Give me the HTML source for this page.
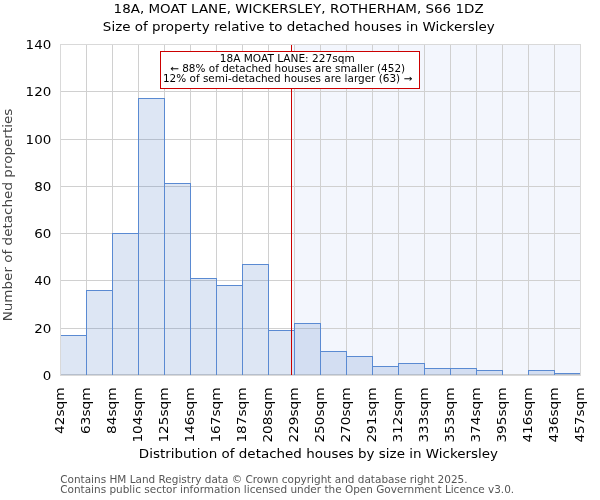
<!DOCTYPE html>
<html><head><meta charset="utf-8"><title>18A, MOAT LANE, WICKERSLEY - size distribution</title>
<style>html,body{margin:0;padding:0;background:#fff;}#c{position:relative;width:600px;height:500px;overflow:hidden;}svg{display:block;}#t{will-change:transform;}</style>
</head><body><div id="c">
<svg width="600" height="500" viewBox="0 0 600 500" shape-rendering="crispEdges">
<rect x="0" y="0" width="600" height="500" fill="#ffffff"/>
<rect x="294.5" y="44.5" width="286.0" height="330.5" fill="#f3f6fd"/>
<rect x="292" y="44.5" width="2.5" height="330.5" fill="#f9fbfe"/>
<path d="M60.5 44.5V375.0M86.5 44.5V375.0M112.5 44.5V375.0M138.5 44.5V375.0M164.5 44.5V375.0M190.5 44.5V375.0M216.5 44.5V375.0M242.5 44.5V375.0M268.5 44.5V375.0M294.5 44.5V375.0M320.5 44.5V375.0M346.5 44.5V375.0M372.5 44.5V375.0M398.5 44.5V375.0M424.5 44.5V375.0M450.5 44.5V375.0M476.5 44.5V375.0M502.5 44.5V375.0M528.5 44.5V375.0M554.5 44.5V375.0M580.5 44.5V375.0M60.5 328.5H580.5M60.5 280.5H580.5M60.5 233.5H580.5M60.5 186.5H580.5M60.5 139.5H580.5M60.5 91.5H580.5M60.5 44.5H580.5M60.5 374.5H580.5" stroke="#d0d0d0" stroke-width="1" fill="none"/>
<rect x="60.5" y="335.5" width="26" height="39.5" fill="#4472c4" fill-opacity="0.18"/>
<rect x="86.5" y="290.5" width="26" height="84.5" fill="#4472c4" fill-opacity="0.18"/>
<rect x="112.5" y="233.5" width="26" height="141.5" fill="#4472c4" fill-opacity="0.18"/>
<rect x="138.5" y="98.5" width="26" height="276.5" fill="#4472c4" fill-opacity="0.18"/>
<rect x="164.5" y="183.5" width="26" height="191.5" fill="#4472c4" fill-opacity="0.18"/>
<rect x="190.5" y="278.5" width="26" height="96.5" fill="#4472c4" fill-opacity="0.18"/>
<rect x="216.5" y="285.5" width="26" height="89.5" fill="#4472c4" fill-opacity="0.18"/>
<rect x="242.5" y="264.5" width="26" height="110.5" fill="#4472c4" fill-opacity="0.18"/>
<rect x="268.5" y="330.5" width="26" height="44.5" fill="#4472c4" fill-opacity="0.18"/>
<rect x="294.5" y="323.5" width="26" height="51.5" fill="#4472c4" fill-opacity="0.18"/>
<rect x="320.5" y="351.5" width="26" height="23.5" fill="#4472c4" fill-opacity="0.18"/>
<rect x="346.5" y="356.5" width="26" height="18.5" fill="#4472c4" fill-opacity="0.18"/>
<rect x="372.5" y="366.5" width="26" height="8.5" fill="#4472c4" fill-opacity="0.18"/>
<rect x="398.5" y="363.5" width="26" height="11.5" fill="#4472c4" fill-opacity="0.18"/>
<rect x="424.5" y="368.5" width="26" height="6.5" fill="#4472c4" fill-opacity="0.18"/>
<rect x="450.5" y="368.5" width="26" height="6.5" fill="#4472c4" fill-opacity="0.18"/>
<rect x="476.5" y="370.5" width="26" height="4.5" fill="#4472c4" fill-opacity="0.18"/>
<rect x="528.5" y="370.5" width="26" height="4.5" fill="#4472c4" fill-opacity="0.18"/>
<rect x="554.5" y="373.5" width="26" height="1.5" fill="#4472c4" fill-opacity="0.18"/>
<path d="M60.5 375.0V335.5H86.5V375.0M86.5 375.0V290.5H112.5V375.0M112.5 375.0V233.5H138.5V375.0M138.5 375.0V98.5H164.5V375.0M164.5 375.0V183.5H190.5V375.0M190.5 375.0V278.5H216.5V375.0M216.5 375.0V285.5H242.5V375.0M242.5 375.0V264.5H268.5V375.0M268.5 375.0V330.5H294.5V375.0M294.5 375.0V323.5H320.5V375.0M320.5 375.0V351.5H346.5V375.0M346.5 375.0V356.5H372.5V375.0M372.5 375.0V366.5H398.5V375.0M398.5 375.0V363.5H424.5V375.0M424.5 375.0V368.5H450.5V375.0M450.5 375.0V368.5H476.5V375.0M476.5 375.0V370.5H502.5V375.0M528.5 375.0V370.5H554.5V375.0M554.5 375.0V373.5H580.5V375.0" stroke="#5a8ad2" stroke-width="1" fill="none"/>
<path d="M291.5 44.5V375.0" stroke="#cc0000" stroke-width="1.2" fill="none"/>
<path d="M60.5 375.0V44.5H580.5V375.0" stroke="#d9d9d9" stroke-width="1" fill="none"/>
<path d="M60.0 375.5H581.0" stroke="#d9d9d9" stroke-width="1" fill="none"/>
<rect x="160.5" y="51.5" width="259" height="37" fill="#ffffff" stroke="#cc0000" stroke-width="1"/>
</svg>
<svg width="600" height="500" viewBox="0 0 600 500" id="t" style="position:absolute;left:0;top:0" font-family="DejaVu Sans, Liberation Sans, sans-serif">
<text transform="translate(298.6 13.0) scale(1.077 1)" font-size="12.5" text-anchor="middle" fill="#000000">18A, MOAT LANE, WICKERSLEY, ROTHERHAM, S66 1DZ</text>
<text transform="translate(298.8 30.6) scale(1.077 1)" font-size="12.5" text-anchor="middle" fill="#000000">Size of property relative to detached houses in Wickersley</text>
<text transform="translate(51.3 380.0) scale(1.077 1)" font-size="12.5" text-anchor="end" fill="#000000">0</text>
<text transform="translate(51.3 333.0) scale(1.077 1)" font-size="12.5" text-anchor="end" fill="#000000">20</text>
<text transform="translate(51.3 285.0) scale(1.077 1)" font-size="12.5" text-anchor="end" fill="#000000">40</text>
<text transform="translate(51.3 238.0) scale(1.077 1)" font-size="12.5" text-anchor="end" fill="#000000">60</text>
<text transform="translate(51.3 191.0) scale(1.077 1)" font-size="12.5" text-anchor="end" fill="#000000">80</text>
<text transform="translate(51.3 144.0) scale(1.077 1)" font-size="12.5" text-anchor="end" fill="#000000">100</text>
<text transform="translate(51.3 96.0) scale(1.077 1)" font-size="12.5" text-anchor="end" fill="#000000">120</text>
<text transform="translate(51.3 49.0) scale(1.077 1)" font-size="12.5" text-anchor="end" fill="#000000">140</text>
<text transform="translate(64.3 387.5) rotate(-90) scale(1.093 1)" font-size="12.5" text-anchor="end" fill="#000000">42sqm</text>
<text transform="translate(90.3 387.5) rotate(-90) scale(1.093 1)" font-size="12.5" text-anchor="end" fill="#000000">63sqm</text>
<text transform="translate(116.3 387.5) rotate(-90) scale(1.093 1)" font-size="12.5" text-anchor="end" fill="#000000">84sqm</text>
<text transform="translate(142.3 387.5) rotate(-90) scale(1.093 1)" font-size="12.5" text-anchor="end" fill="#000000">104sqm</text>
<text transform="translate(168.3 387.5) rotate(-90) scale(1.093 1)" font-size="12.5" text-anchor="end" fill="#000000">125sqm</text>
<text transform="translate(194.3 387.5) rotate(-90) scale(1.093 1)" font-size="12.5" text-anchor="end" fill="#000000">146sqm</text>
<text transform="translate(220.3 387.5) rotate(-90) scale(1.093 1)" font-size="12.5" text-anchor="end" fill="#000000">167sqm</text>
<text transform="translate(246.3 387.5) rotate(-90) scale(1.093 1)" font-size="12.5" text-anchor="end" fill="#000000">187sqm</text>
<text transform="translate(272.3 387.5) rotate(-90) scale(1.093 1)" font-size="12.5" text-anchor="end" fill="#000000">208sqm</text>
<text transform="translate(298.3 387.5) rotate(-90) scale(1.093 1)" font-size="12.5" text-anchor="end" fill="#000000">229sqm</text>
<text transform="translate(324.3 387.5) rotate(-90) scale(1.093 1)" font-size="12.5" text-anchor="end" fill="#000000">250sqm</text>
<text transform="translate(350.3 387.5) rotate(-90) scale(1.093 1)" font-size="12.5" text-anchor="end" fill="#000000">270sqm</text>
<text transform="translate(376.3 387.5) rotate(-90) scale(1.093 1)" font-size="12.5" text-anchor="end" fill="#000000">291sqm</text>
<text transform="translate(402.3 387.5) rotate(-90) scale(1.093 1)" font-size="12.5" text-anchor="end" fill="#000000">312sqm</text>
<text transform="translate(428.3 387.5) rotate(-90) scale(1.093 1)" font-size="12.5" text-anchor="end" fill="#000000">333sqm</text>
<text transform="translate(454.3 387.5) rotate(-90) scale(1.093 1)" font-size="12.5" text-anchor="end" fill="#000000">353sqm</text>
<text transform="translate(480.3 387.5) rotate(-90) scale(1.093 1)" font-size="12.5" text-anchor="end" fill="#000000">374sqm</text>
<text transform="translate(506.3 387.5) rotate(-90) scale(1.093 1)" font-size="12.5" text-anchor="end" fill="#000000">395sqm</text>
<text transform="translate(532.3 387.5) rotate(-90) scale(1.093 1)" font-size="12.5" text-anchor="end" fill="#000000">416sqm</text>
<text transform="translate(558.3 387.5) rotate(-90) scale(1.093 1)" font-size="12.5" text-anchor="end" fill="#000000">436sqm</text>
<text transform="translate(584.3 387.5) rotate(-90) scale(1.093 1)" font-size="12.5" text-anchor="end" fill="#000000">457sqm</text>
<text transform="translate(12.0 215.0) rotate(-90) scale(1.083 1)" font-size="12.5" text-anchor="middle" fill="#444444">Number of detached properties</text>
<text transform="translate(318.4 458.1) scale(1.077 1)" font-size="12.5" text-anchor="middle" fill="#000000">Distribution of detached houses by size in Wickersley</text>
<text transform="translate(287.2 62.1) scale(1.088 1)" font-size="9.72" text-anchor="middle" fill="#000000">18A MOAT LANE: 227sqm</text>
<text transform="translate(287.6 71.7) scale(1.077 1)" font-size="9.72" text-anchor="middle" fill="#000000">← 88% of detached houses are smaller (452)</text>
<text transform="translate(287.6 81.9) scale(1.077 1)" font-size="9.72" text-anchor="middle" fill="#000000">12% of semi-detached houses are larger (63) →</text>
<text transform="translate(60.2 482.7) scale(1.08 1)" font-size="9.72" text-anchor="start" fill="#555555">Contains HM Land Registry data © Crown copyright and database right 2025.</text>
<text transform="translate(60.2 493.1) scale(1.08 1)" font-size="9.72" text-anchor="start" fill="#555555">Contains public sector information licensed under the Open Government Licence v3.0.</text>
</svg>
</div></body></html>
